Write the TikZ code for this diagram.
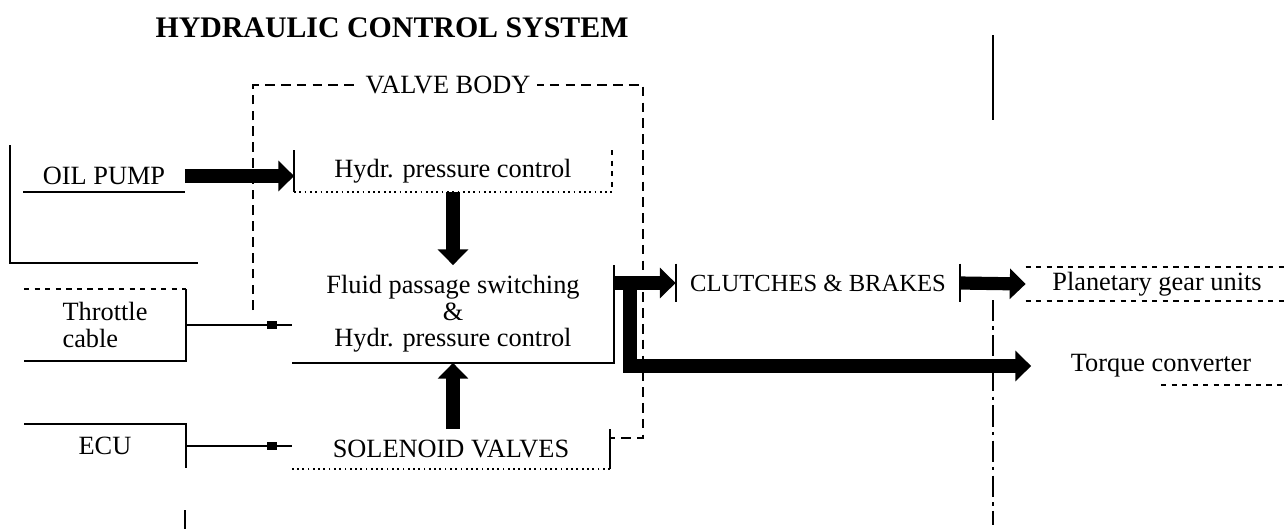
\documentclass[tikz,border=0pt]{standalone}
\usepackage{fontspec}
\setmainfont{Liberation Serif}
\usetikzlibrary{arrows.meta}
\usetikzlibrary{calc}
\usetikzlibrary{decorations.markings}

\begin{document}
\begin{tikzpicture}[x=0.02cm, y=-0.02cm, line width=1pt,
    box/.style={inner sep=0pt, font=\fontsize{15}{15}\selectfont},
    flow/.style={line width=7.5pt, line join=miter, -{Triangle[length=9pt,width=17pt]}},
    signal/.style={postaction={decorate}, decoration={markings,
        mark=at position -0.3cm with {\fill (-0.2cm,-0.08cm) rectangle (0cm,0.08cm);}}},
    frame/.style={dash pattern=on 5.5pt off 3.5pt}]

    % Page
    \useasboundingbox (0,0) rectangle (1288,529);

    % Title
    \node[font=\fontsize{17}{17}\selectfont\bfseries] (title) at (392,28) {HYDRAULIC CONTROL SYSTEM};

    % Boxes
    \node[box, minimum width=3.2cm, minimum height=0.6cm] (pump) at (104,176) {OIL PUMP};
    \node[box, minimum width=3.2cm, minimum height=1.4cm, align=left] (thr) at (105,325) {Throttle\\cable};
    \node[box, minimum width=3.2cm, minimum height=0.84cm] (ecu) at (105,446) {ECU};

    \node[box, minimum width=6.32cm, minimum height=0.8cm] (hpc) at (453,171) {Hydr. pressure control};
    \node[box, minimum width=6.4cm, minimum height=1.92cm, align=center] (fluid) at (453,314)
        {Fluid passage switching\\\&\\Hydr. pressure control};
    \node[box, minimum width=6.32cm, minimum height=0.76cm] (sol) at (451,449) {SOLENOID VALVES};

    \node[box, minimum width=5.66cm, minimum height=0.74cm, font=\fontsize{14}{14}\selectfont] (cl) at (818,283) {CLUTCHES \& BRAKES};
    \node[box, minimum width=5.22cm, minimum height=0.64cm] (plan) at (1157,284) {Planetary gear units};
    \node[box, minimum width=5.16cm, minimum height=0.72cm] (torque) at (1161,366) {Torque converter};

    % Box edges
    \draw (pump.south west) -- (pump.south east);
    \draw (10,145) -- (10,263) -- (198,263);
    \draw (hpc.north west) -- (hpc.south west);
    \draw[dashed] (hpc.north east) -- (hpc.south east);
    \draw[dotted] (hpc.south west) -- (hpc.south east);
    \draw (fluid.north east) -- (fluid.south east) -- (fluid.south west);
    \draw[dashed] (thr.north west) -- (thr.north east);
    \draw (thr.north east) -- (thr.south east) -- (thr.south west);
    \draw (ecu.south east) -- (ecu.north east) -- (ecu.north west);
    \draw (sol.north east) -- (sol.south east);
    \draw[dotted] (sol.south east) -- (sol.south west);
    \draw (cl.north west) -- (cl.south west);
    \draw (cl.north east) -- (cl.south east);
    \draw[dashed] (plan.north west) -- (plan.north east);
    \draw[dashed] (plan.south west) -- (plan.south east);
    \draw[dashed] (torque.south) -- (torque.south east);

    % Valve body
    \draw[frame] (253,310) -- (253,85) -- (643,85) -- (643,438) -- (sol.east |- 0,438);
    \node[box, fill=white, inner xsep=4pt] (vb) at (448,85) {VALVE BODY};

    % Guide lines
    \draw (993,35) -- (993,120);
    \draw[dash pattern=on 12pt off 3pt on 2pt off 3pt] (993,300) -- (993,525);
    \draw (185,510) -- (185,529);

    % Signals
    \draw[signal] (thr.east) -- (thr.east -| fluid.west);
    \draw[signal] (ecu.east) -- (ecu.east -| sol.west);

    % Oil flow
    \coordinate (split) at (630,283);
    \draw[flow] (pump.east) -- (pump.east -| hpc.west);
    \draw[flow] (hpc.south) -- (fluid.north);
    \draw[flow] (fluid.south |- sol.north) -- (fluid.south);
    \draw[flow] (fluid.east |- cl.west) -- (cl.west);
    \draw[flow] (split) |- (torque.west);
    \draw[flow] (cl.east) -- (plan.west);

\end{tikzpicture}
\end{document}
